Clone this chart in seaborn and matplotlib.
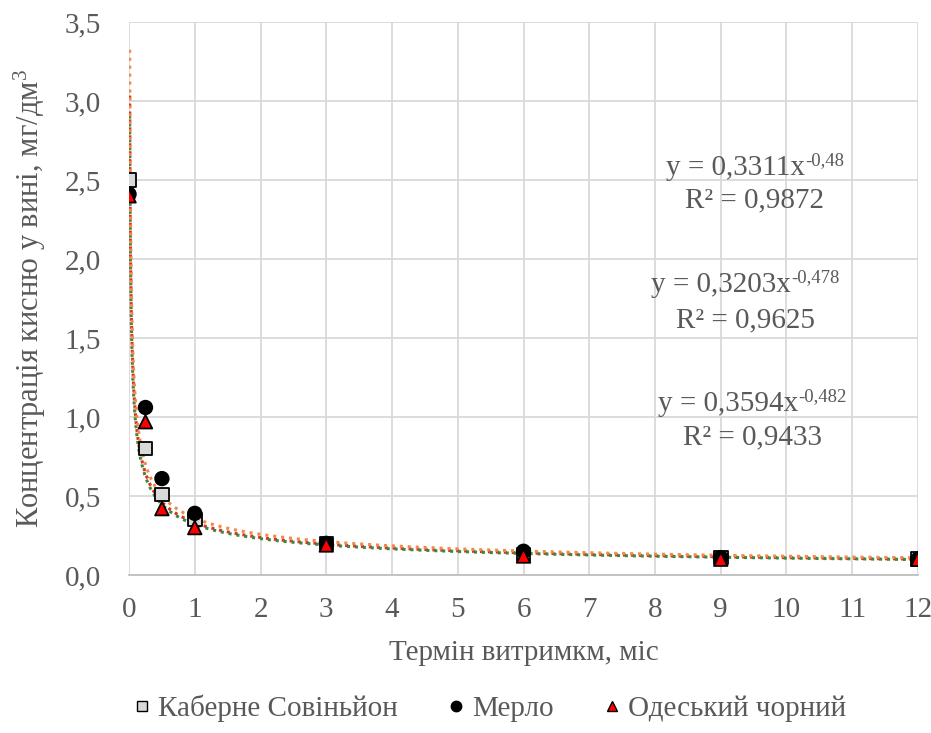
import numpy as np
import pandas as pd
import matplotlib
matplotlib.use("Agg")
import matplotlib.pyplot as plt
import seaborn as sns
from matplotlib.lines import Line2D

months = [0, 0.25, 0.5, 1, 3, 6, 9, 12]
cabernet = [2.50, 0.80, 0.51, 0.35, 0.20, 0.13, 0.11, 0.10]
merlot = [2.41, 1.06, 0.61, 0.39, 0.20, 0.15, 0.11, 0.10]
odesa = [2.40, 0.97, 0.42, 0.30, 0.19, 0.12, 0.10, 0.10]
series_names = ["Каберне Совіньйон", "Мерло", "Одеський чорний"]

# power trend coefficients (a, b), R² labels and colours
trend_a = ["0,3311", "0,3203", "0,3594"]
trend_b = ["-0,48", "-0,478", "-0,482"]
trend_r2 = ["0,9872", "0,9625", "0,9433"]
trend_colors = ["#E0302A", "#3A8A3A", "#F08A4B"]

sns.set_theme(style="white")
plt.rcParams["font.family"] = ["Liberation Serif", "DejaVu Serif"]
plt.rcParams["mathtext.fontset"] = "custom"
plt.rcParams["mathtext.rm"] = "Liberation Serif"
plt.rcParams["mathtext.it"] = "Liberation Serif:italic"

TXT = "#595959"
FS = 21

df = pd.DataFrame({
    "x": months * 3,
    "y": cabernet + merlot + odesa,
    "s": sum([[n] * len(months) for n in series_names], []),
})

fig = plt.figure(figsize=(9.31, 7.33), dpi=100)
ax = fig.add_axes([0.1386, 0.2156, 0.8474, 0.7544])

xs = np.linspace(0.0099, 12, 2000)
for a, b, c in zip(trend_a, trend_b, trend_colors):
    av = float(a.replace(",", "."))
    bv = float(b.replace(",", "."))
    ax.plot(xs, av * xs ** bv, linestyle=(0, (1, 1.6)), color=c, lw=2.2, zorder=2)

markers = {"Каберне Совіньйон": "s", "Мерло": "o", "Одеський чорний": "^"}
palette = {"Каберне Совіньйон": "#D9D9D9", "Мерло": "#000000", "Одеський чорний": "#FF0000"}
sns.scatterplot(data=df, x="x", y="y", hue="s", style="s", markers=markers,
                palette=palette, s=95, edgecolor="black", linewidth=1.3,
                ax=ax, legend=False, zorder=3)

ax.set_xlim(0, 12)
ax.set_ylim(0, 3.5)
ax.set_xticks(range(0, 13))
yt = np.arange(0, 3.51, 0.5)
ax.set_yticks(yt)
ax.set_yticklabels([f"{v:.1f}".replace(".", ",") for v in yt])
ax.grid(True, color="#D9D9D9", lw=1.3)
for sp in ["top", "right", "left"]:
    ax.spines[sp].set_visible(False)
ax.spines["bottom"].set_color("#BFBFBF")
ax.spines["bottom"].set_linewidth(1.3)
ax.tick_params(axis="both", labelsize=FS, colors=TXT, length=0)
ax.tick_params(axis="x", pad=16)
ax.tick_params(axis="y", pad=20)
ax.set_axisbelow(True)

ax.set_xlabel("Термін витримкм, міс", fontsize=FS, color=TXT, labelpad=12)
ax.set_ylabel("Концентрація кисню у вині, мг/дм$^{3}$", fontsize=22, color=TXT, labelpad=12)

eq_pos = [(9.52, 2.576, 2.373), (9.37, 1.835, 1.614), (9.48, 1.082, 0.873)]
pairs = []
for (x, y1, y2), a, b, r2 in zip(eq_pos, trend_a, trend_b, trend_r2):
    main = ax.text(x, y1, f"y = {a}x", fontsize=FS, color=TXT, ha="center", va="center")
    sup = ax.annotate(b, xy=(1.0, 1.0), xycoords=main, xytext=(0, 2), textcoords="offset points",
                      fontsize=13.5, color=TXT, ha="left", va="top")
    ax.text(x, y2, f"R² = {r2}", fontsize=FS, color=TXT, ha="center", va="center")
    pairs.append((main, sup))

# centre equation + exponent together
fig.canvas.draw()
r = fig.canvas.get_renderer()
for main, sup in pairs:
    w = sup.get_window_extent(r).width
    main.set_transform(main.get_transform() + matplotlib.transforms.ScaledTranslation(-w / 2 / 100, 0, fig.dpi_scale_trans))

handles = [
    Line2D([], [], marker="s", ls="", markerfacecolor="#D9D9D9", markeredgecolor="black", markersize=7.5),
    Line2D([], [], marker="o", ls="", markerfacecolor="black", markeredgecolor="black", markersize=7.5),
    Line2D([], [], marker="^", ls="", markerfacecolor="#FF0000", markeredgecolor="black", markersize=7.5),
]
leg = fig.legend(handles, series_names, loc="center", bbox_to_anchor=(0.523, 0.034), ncol=3,
                 frameon=False, fontsize=FS, handletextpad=0.05, columnspacing=1.5,
                 handlelength=1.0)
for t in leg.get_texts():
    t.set_color(TXT)

fig.savefig("out.png", dpi=100)
